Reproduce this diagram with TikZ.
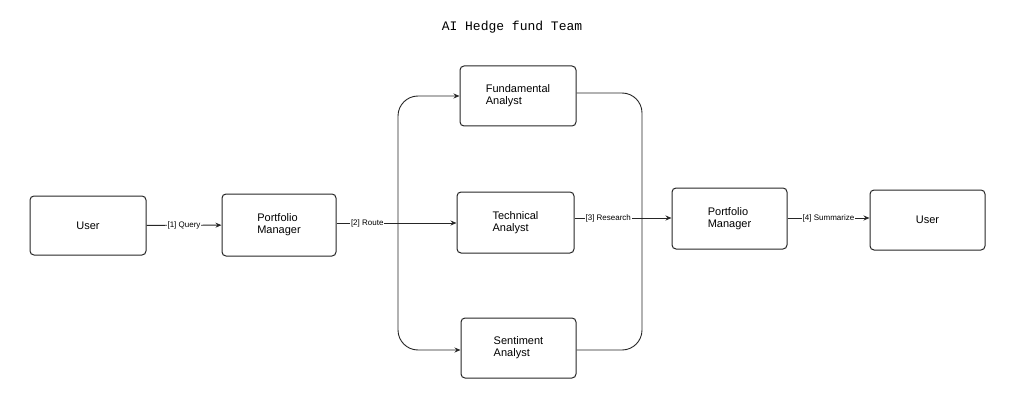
\documentclass[tikz,border=0pt]{standalone}
\usepackage{fontspec}
\setmainfont{Liberation Sans}
\newfontfamily\titlefont{Liberation Mono}
\usetikzlibrary{arrows.meta}
\begin{document}
\begin{tikzpicture}[x=1pt,y=-1pt,
 box/.style={draw=black!85,line width=1pt,rounded corners=4pt,align=left,font=\fontsize{11}{12}\selectfont},
 conn/.style={draw=black!85,line width=0.9pt,-{Stealth[length=6pt,width=5pt]}},
 line/.style={draw=black!85,line width=0.9pt},
 lab/.style={fill=white,inner sep=1pt,font=\fontsize{8}{9}\selectfont}]
\useasboundingbox (0,0) rectangle (1024,406);
\node[font=\titlefont\fontsize{13}{14}\selectfont] (title) at (512,27) {AI Hedge fund Team};
\node[box,minimum width=116pt,minimum height=59pt] (u1) at (88,225.5) {User};
\node[box,minimum width=114pt,minimum height=62pt] (pm1) at (279,225) {Portfolio\\Manager};
\node[box,minimum width=116pt,minimum height=60pt] (fa) at (518,96) {Fundamental\\Analyst};
\node[box,minimum width=117pt,minimum height=61pt] (ta) at (515.5,222.5) {Technical\\Analyst};
\node[box,minimum width=115pt,minimum height=60pt] (sa) at (518.5,348) {Sentiment\\Analyst};
\node[box,minimum width=115pt,minimum height=61pt] (pm2) at (729.5,218.5) {Portfolio\\Manager};
\node[box,minimum width=115pt,minimum height=60pt] (u2) at (927.5,220) {User};
\coordinate (sp) at (398,223);
\coordinate (jn) at (642,218);
\draw[conn] (u1) -- node[lab]{[1] Query} (pm1);
\draw[line] (pm1.east |- sp) -- node[lab,pos=0.5]{[2] Route} (sp);
\draw[conn] (sp) -- (ta.west |- sp);
\draw[conn,rounded corners=20pt] (sp) -- (398,96) -- (fa.west);
\draw[conn,rounded corners=20pt] (sp) -- (398,350) -- (sa.west |- 0,350);
\draw[line] (ta.east |- jn) -- node[lab]{[3] Research} (jn);
\draw[line,rounded corners=20pt] (fa.east |- 0,93) -- (642,93) -- (jn);
\draw[line,rounded corners=20pt] (sa.east |- 0,350) -- (642,350) -- (jn);
\draw[conn] (jn) -- (pm2.west |- jn);
\draw[conn] (pm2.east |- 0,218) -- node[lab]{[4] Summarize} (u2.west |- 0,218);
\end{tikzpicture}
\end{document}
